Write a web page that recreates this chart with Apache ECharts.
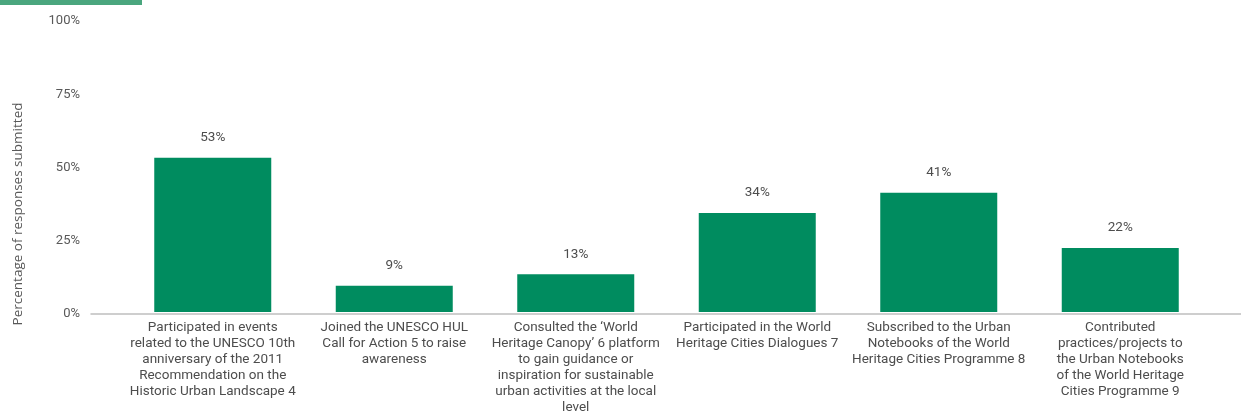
<!DOCTYPE html>
<html>
<head>
<meta charset="utf-8">
<script src="https://cdn.jsdelivr.net/npm/echarts@6/dist/echarts.min.js"></script>
<style>
  html, body { margin: 0; padding: 0; background: #ffffff; }
  #chart { width: 1241px; height: 416px; }
</style>
</head>
<body>
<div id="chart"></div>
<script>
// Activities reported by responding cities
const categories = [
  'Participated in events\nrelated to the UNESCO 10th\nanniversary of the 2011\nRecommendation on the\nHistoric Urban Landscape 4',
  'Joined the UNESCO HUL\nCall for Action 5 to raise\nawareness',
  'Consulted the \u2018World\nHeritage Canopy\u2019 6 platform\nto gain guidance or\ninspiration for sustainable\nurban activities at the local\nlevel',
  'Participated in the World\nHeritage Cities Dialogues 7',
  'Subscribed to the Urban\nNotebooks of the World\nHeritage Cities Programme 8',
  'Contributed\npractices/projects to\nthe Urban Notebooks\nof the World Heritage\nCities Programme 9'
];
const shares = [53, 9, 13, 34, 41, 22];
const yTicks = [0, 25, 50, 75, 100];

const textColor = '#4d4d4d';
const fontFamily = 'Roboto, "Open Sans", sans-serif';

const chart = echarts.init(document.getElementById('chart'), null, { renderer: 'canvas' });

chart.setOption({
  animation: false,
  backgroundColor: '#ffffff',
  grid: [
    { left: 91, right: -2, top: 21, bottom: 102 },
    { left: 122, right: 30, top: 21, bottom: 102 }
  ],
  xAxis: [
    {
      gridIndex: 0, type: 'value', min: 0, max: 1,
      axisLine: { show: true, lineStyle: { color: '#bfbfbf', width: 1.5 } },
      axisTick: { show: false }, axisLabel: { show: false }, splitLine: { show: false }
    },
    {
      gridIndex: 1, type: 'category', data: categories,
      axisLine: { show: false }, axisTick: { show: false },
      axisLabel: {
        interval: 0, margin: 8, color: textColor, fontFamily: fontFamily,
        fontSize: 13.5, lineHeight: 16, align: 'center'
      }
    }
  ],
  yAxis: [
    {
      gridIndex: 0, type: 'value', min: yTicks[0], max: yTicks[yTicks.length - 1], interval: 25,
      axisLine: { show: false }, axisTick: { show: false }, splitLine: { show: false },
      axisLabel: { formatter: '{value}%', margin: 11, color: '#595959', fontFamily: fontFamily, fontSize: 13 }
    },
    {
      gridIndex: 1, type: 'value', min: 0, max: 100, show: false
    }
  ],
  series: [
    {
      type: 'bar', xAxisIndex: 1, yAxisIndex: 1,
      data: shares, barWidth: 117,
      itemStyle: { color: '#008c5f' },
      label: {
        show: true, position: 'top', distance: 13, formatter: '{c}%',
        color: textColor, fontFamily: fontFamily, fontSize: 13.5
      }
    }
  ],
  graphic: [
    { type: 'rect', left: 0, top: 0, shape: { width: 142, height: 5 }, style: { fill: '#4aa67e' } },
    {
      type: 'text', x: 18, y: 214, rotation: Math.PI / 2,
      style: {
        text: 'Percentage of responses submitted', fill: '#595959',
        font: '13.5px "Open Sans", sans-serif', align: 'center', verticalAlign: 'middle'
      }
    }
  ]
});
</script>
</body>
</html>
